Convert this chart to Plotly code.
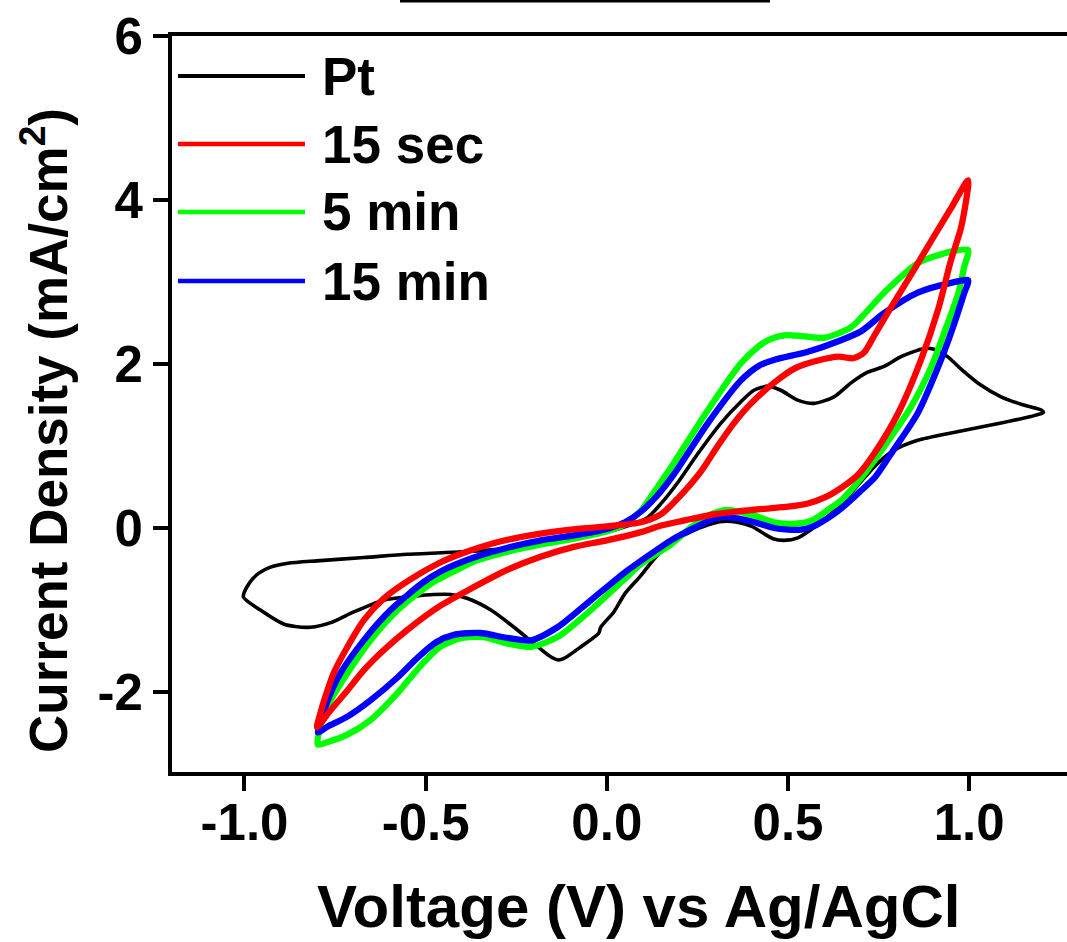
import plotly.graph_objects as go

# Cyclic voltammograms: potential (V vs Ag/AgCl) and current density (mA/cm2),
# each loop traced anodic sweep first, then the cathodic return sweep.
pt_v = [-1.003, -0.985, -0.96, -0.93, -0.88, -0.80, -0.67, -0.55, -0.40, -0.30, -0.20, -0.10, 0.0, 0.06,
        0.113, 0.15, 0.20, 0.25, 0.315, 0.37, 0.406, 0.445, 0.48, 0.527, 0.572, 0.627, 0.674, 0.72, 0.765,
        0.812, 0.876, 0.903, 0.94, 0.98, 1.03, 1.088, 1.15, 1.199, 1.205,
        1.17, 1.088, 0.95, 0.858, 0.793, 0.748, 0.674, 0.62, 0.582, 0.527, 0.489, 0.459, 0.434, 0.40, 0.36,
        0.32, 0.28, 0.23, 0.177, 0.13, 0.094, 0.05, 0.02, -0.017, -0.022, -0.072, -0.118, -0.133, -0.155,
        -0.19, -0.256, -0.32, -0.384, -0.43, -0.478, -0.53, -0.616, -0.707, -0.76, -0.818, -0.86, -0.892,
        -0.956, -1.003]
pt_i = [-0.84, -0.66, -0.55, -0.48, -0.43, -0.40, -0.36, -0.32, -0.29, -0.26, -0.21, -0.14, -0.05, 0.03,
        0.13, 0.30, 0.58, 0.90, 1.28, 1.54, 1.68, 1.73, 1.68, 1.56, 1.52, 1.60, 1.77, 1.90, 1.97,
        2.09, 2.19, 2.18, 2.09, 1.93, 1.75, 1.60, 1.50, 1.44, 1.41,
        1.36, 1.28, 1.16, 1.07, 0.95, 0.79, 0.43, 0.18, 0.04, -0.12, -0.15, -0.13, -0.07, 0.02, 0.07,
        0.08, 0.04, -0.05, -0.18, -0.38, -0.58, -0.80, -1.02, -1.21, -1.28, -1.45, -1.59, -1.61, -1.57,
        -1.45, -1.21, -1.00, -0.86, -0.81, -0.81, -0.83, -0.88, -1.04, -1.15, -1.21, -1.20, -1.17,
        -1.00, -0.84]

sec15_v = [-0.80, -0.79, -0.78, -0.754, -0.716, -0.67, -0.616, -0.54, -0.46, -0.40, -0.30, -0.20, -0.10,
           0.0, 0.094, 0.15, 0.20, 0.26, 0.306, 0.351, 0.398, 0.461, 0.52, 0.58, 0.64, 0.68, 0.71, 0.74,
           0.776, 0.848, 0.895, 0.95, 0.997,
           0.978, 0.95, 0.914, 0.867, 0.804, 0.738, 0.693, 0.65, 0.60, 0.555, 0.50, 0.45, 0.40, 0.30, 0.20,
           0.15, 0.094, 0.0, -0.091, -0.183, -0.275, -0.367, -0.46, -0.55, -0.616, -0.67, -0.716, -0.762,
           -0.80]
sec15_i = [-2.43, -2.25, -2.10, -1.77, -1.45, -1.12, -0.86, -0.62, -0.42, -0.31, -0.17, -0.08, -0.02,
           0.02, 0.07, 0.17, 0.38, 0.69, 1.00, 1.28, 1.52, 1.77, 1.95, 2.04, 2.09, 2.07, 2.14, 2.36,
           2.63, 3.15, 3.50, 3.90, 4.24,
           3.67, 3.27, 2.66, 2.05, 1.40, 0.91, 0.65, 0.50, 0.37, 0.30, 0.26, 0.24, 0.22, 0.17, 0.08,
           0.03, -0.05, -0.15, -0.23, -0.35, -0.51, -0.72, -0.95, -1.24, -1.49, -1.73, -1.98, -2.22,
           -2.43]

min5_v = [-0.798, -0.785, -0.762, -0.716, -0.652, -0.577, -0.486, -0.40, -0.367, -0.274, -0.182, -0.091,
          0.0, 0.05, 0.094, 0.14, 0.186, 0.279, 0.37, 0.42, 0.445, 0.489, 0.54, 0.60, 0.674, 0.765, 0.858,
          0.95, 0.997,
          0.986, 0.97, 0.931, 0.895, 0.84, 0.765, 0.70, 0.65, 0.61, 0.57, 0.536, 0.50, 0.461, 0.40, 0.33,
          0.279, 0.23, 0.177, 0.094, 0.047, -0.044, -0.136, -0.21, -0.274, -0.34, -0.40, -0.46, -0.514,
          -0.577, -0.652, -0.716, -0.77, -0.798]
min5_i = [-2.64, -2.34, -2.10, -1.77, -1.37, -1.00, -0.68, -0.48, -0.41, -0.29, -0.20, -0.13,
          -0.04, 0.05, 0.21, 0.50, 0.80, 1.44, 2.01, 2.22, 2.29, 2.35, 2.34, 2.32, 2.45, 2.87, 3.23,
          3.37, 3.39,
          3.18, 2.86, 2.38, 1.96, 1.48, 0.99, 0.60, 0.35, 0.22, 0.10, 0.06, 0.05, 0.07, 0.16, 0.22,
          0.15, 0.00, -0.20, -0.44, -0.63, -1.00, -1.33, -1.45, -1.41, -1.33, -1.34, -1.45, -1.68,
          -2.01, -2.34, -2.52, -2.61, -2.64]

min15_v = [-0.798, -0.77, -0.735, -0.671, -0.597, -0.506, -0.459, -0.367, -0.274, -0.182, -0.091, 0.0,
           0.05, 0.094, 0.14, 0.186, 0.279, 0.37, 0.42, 0.461, 0.555, 0.646, 0.702, 0.765, 0.858, 0.95,
           0.997,
           0.986, 0.95, 0.914, 0.858, 0.785, 0.74, 0.70, 0.65, 0.61, 0.57, 0.536, 0.50, 0.461, 0.40, 0.34,
           0.30, 0.25, 0.177, 0.12, 0.047, -0.044, -0.136, -0.21, -0.274, -0.35, -0.42, -0.47, -0.522,
           -0.577, -0.652, -0.716, -0.77, -0.798]
min15_i = [-2.49, -2.10, -1.77, -1.37, -1.00, -0.66, -0.53, -0.36, -0.24, -0.15, -0.09, -0.01,
           0.07, 0.20, 0.40, 0.66, 1.28, 1.80, 1.98, 2.05, 2.15, 2.29, 2.40, 2.62, 2.87, 2.99,
           3.02,
           2.86, 2.38, 1.96, 1.40, 0.91, 0.62, 0.45, 0.25, 0.12, 0.02, -0.02, -0.02, 0.00, 0.08, 0.13,
           0.12, 0.02, -0.15, -0.32, -0.55, -0.88, -1.21, -1.37, -1.34, -1.28, -1.30, -1.39, -1.58,
           -1.82, -2.10, -2.30, -2.42, -2.49]

series_names = ["Pt", "15 sec", "5 min", "15 min"]
series_colors = ["#000000", "#FF0000", "#00FF00", "#0000FF"]
x_ticks = [-1.0, -0.5, 0.0, 0.5, 1.0]
x_ticktext = ["-1.0", "-0.5", "0.0", "0.5", "1.0"]
y_ticks = [-2, 0, 2, 4, 6]
y_ticktext = ["-2", "0", "2", "4", "6"]

FONT = "Liberation Sans, Arial, sans-serif"
W, H = 1067, 942
L, R, T, B = 172, 0, 36, 170
PW, PH = W - L - R, H - T - B


def px_x(px):
    return (px - L) / PW


def px_y(py):
    return (H - B - py) / PH


data = {
    "Pt": (pt_v, pt_i, 3.6),
    "15 sec": (sec15_v, sec15_i, 6.3),
    "5 min": (min5_v, min5_i, 6.3),
    "15 min": (min15_v, min15_i, 6.3),
}
color_of = dict(zip(series_names, series_colors))

fig = go.Figure()
# black first, then green, blue and red on top
for name in ["Pt", "5 min", "15 min", "15 sec"]:
    v, i, w = data[name]
    fig.add_trace(go.Scatter(
        x=v, y=i, mode="lines", name=name, showlegend=False,
        line=dict(color=color_of[name], width=w, shape="spline", smoothing=0.7),
    ))

# legend drawn as sample strokes with labels
shapes = []
annotations = []
row_y = [76, 144, 212, 281]
for name, col, ry in zip(series_names, series_colors, row_y):
    shapes.append(dict(type="line", xref="paper", yref="paper",
                       x0=px_x(178), x1=px_x(305), y0=px_y(ry), y1=px_y(ry),
                       line=dict(color=col, width=4.5 if name != "Pt" else 4)))
    annotations.append(dict(text=f"<b>{name}</b>", xref="paper", yref="paper",
                            x=px_x(320), y=px_y(ry), xanchor="left", yanchor="middle",
                            showarrow=False, font=dict(family=FONT, size=53, color="black")))

# rule at the top edge
shapes.append(dict(type="line", xref="paper", yref="paper",
                   x0=px_x(400), x1=px_x(770), y0=px_y(1), y1=px_y(1),
                   line=dict(color="black", width=3)))

annotations.append(dict(text="<b>Current Density (mA/cm<sup>2</sup>)</b>", xref="paper", yref="paper",
                        x=px_x(44), y=px_y(431), xanchor="center", yanchor="middle", textangle=-90,
                        showarrow=False, font=dict(family=FONT, size=53, color="black")))
annotations.append(dict(text="<b>Voltage (V) vs Ag/AgCl</b>", xref="paper", yref="paper",
                        x=px_x(638), y=px_y(906), xanchor="center", yanchor="middle",
                        showarrow=False, font=dict(family=FONT, size=60, color="black")))

fig.update_layout(
    width=W, height=H,
    margin=dict(l=L, r=R, t=T, b=B),
    paper_bgcolor="white", plot_bgcolor="white",
    showlegend=False,
    shapes=shapes, annotations=annotations,
    font=dict(family=FONT, color="black"),
)
fig.update_xaxes(
    range=[-1.2, 1.27], tickvals=x_ticks, ticktext=x_ticktext,
    showgrid=False, zeroline=False, showline=True, linecolor="black", linewidth=4, mirror=True,
    ticks="outside", ticklen=15, tickwidth=4, tickcolor="black", ticklabelstandoff=-12,
    tickfont=dict(family=FONT, size=51, color="black", weight="bold"),
)
fig.update_yaxes(
    range=[-2.975, 6], tickvals=y_ticks, ticktext=y_ticktext,
    showgrid=False, zeroline=False, showline=True, linecolor="black", linewidth=4, mirror=False,
    ticks="outside", ticklen=15, tickwidth=4, tickcolor="black",
    tickfont=dict(family=FONT, size=51, color="black", weight="bold"),
)

fig.write_html("out.html")
